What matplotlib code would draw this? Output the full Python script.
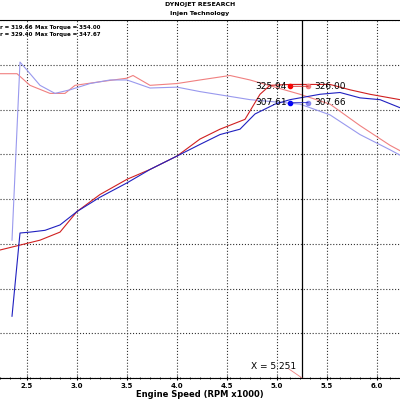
import matplotlib.pyplot as plt

# values (rpm x1000, units)
tq1_x = [2.23, 2.40, 2.53, 2.73, 2.88, 2.98, 3.23, 3.50, 3.56, 3.73, 4.00, 4.23, 4.53, 4.73, 4.98, 5.23, 5.53, 5.83, 6.13, 6.23]
tq1_y = [340, 340, 327, 318, 318, 327, 331, 335, 338, 327, 329, 333, 338, 333, 325, 317, 306, 282, 260, 254]
tq2_x = [2.35, 2.43, 2.50, 2.63, 2.78, 2.93, 3.13, 3.33, 3.50, 3.73, 4.00, 4.23, 4.73, 5.03, 5.23, 5.53, 5.83, 6.13, 6.23]
tq2_y = [154, 353, 344, 327, 318, 322, 329, 333, 333, 324, 325, 320, 311, 308, 306, 294, 272, 255, 249]
hp1_x = [2.23, 2.63, 2.83, 3.00, 3.23, 3.50, 3.73, 4.00, 4.23, 4.43, 4.68, 4.83, 4.93, 5.13, 5.53, 5.73, 5.93, 6.13, 6.23]
hp1_y = [143, 154, 163, 186, 205, 222, 233, 248, 267, 278, 289, 317, 327, 328, 328, 322, 317, 313, 311]
hp2_x = [2.35, 2.43, 2.53, 2.68, 2.83, 3.00, 3.23, 3.50, 3.73, 4.00, 4.23, 4.43, 4.63, 4.78, 4.98, 5.13, 5.43, 5.63, 5.83, 6.03, 6.23]
hp2_y = [69, 162, 163, 165, 171, 186, 202, 218, 233, 248, 261, 272, 278, 295, 306, 311, 317, 319, 313, 311, 302]

cursor = 5.251
mark_x = [5.13, 5.31]
mark_red = [325.94, 326.00]
mark_blue = [307.61, 307.66]

fig = plt.figure(figsize=(4, 4), dpi=100)
ax = fig.add_axes([0, 0.055, 1, 0.895])
ax.plot(tq1_x, tq1_y, color='#f08080', lw=0.8)
ax.plot(tq2_x, tq2_y, color='#9999ee', lw=0.8)
ax.plot(hp1_x, hp1_y, color='#d02020', lw=0.8)
ax.plot(hp2_x, hp2_y, color='#2020c0', lw=0.8)

ax.set_xlim(2.23, 6.23)
ax.set_ylim(0, 400)
ax.set_xticks([2.5, 3.0, 3.5, 4.0, 4.5, 5.0, 5.5, 6.0])
ax.set_xticks([2.23 + i * 0.1 for i in range(41)], minor=True)
ax.set_yticks(range(0, 401, 50))
ax.set_yticklabels([])
ax.tick_params(axis='x', labelsize=5, length=3, pad=2, direction='inout')
ax.tick_params(axis='x', which='minor', length=2, direction='inout')
ax.tick_params(axis='y', length=0)
for lbl in ax.get_xticklabels():
    lbl.set_fontweight('bold')
ax.grid(True, color='#333333', ls=':', lw=0.8)
for s in ['left', 'right']:
    ax.spines[s].set_visible(False)
ax.set_xlabel('Engine Speed (RPM x1000)', fontsize=6, fontweight='bold', labelpad=1)

ax.axvline(cursor, color='black', lw=0.9)
ax.plot(mark_x[0], mark_red[0], 'o', color='red', ms=3)
ax.plot(mark_x[1], mark_red[1], 'o', color='#f08080', ms=3)
ax.plot(mark_x[0], mark_blue[0], 'o', color='blue', ms=3)
ax.plot(mark_x[1], mark_blue[1], 'o', color='#8888ee', ms=3)
ax.plot(mark_x, mark_red, color='#d02020', lw=0.6)
ax.plot(mark_x, mark_blue, color='#2020c0', lw=0.6)
ax.text(mark_x[0] - 0.03, mark_red[0], f'{mark_red[0]:.2f}', fontsize=6.5, ha='right', va='center')
ax.text(mark_x[1] + 0.06, mark_red[1], f'{mark_red[1]:.2f}', fontsize=6.5, ha='left', va='center')
ax.text(mark_x[0] - 0.03, mark_blue[0], f'{mark_blue[0]:.2f}', fontsize=6.5, ha='right', va='center')
ax.text(mark_x[1] + 0.06, mark_blue[1], f'{mark_blue[1]:.2f}', fontsize=6.5, ha='left', va='center')
ax.text(4.97, 8, f'X = {cursor:.3f}', fontsize=6.5, ha='center', va='bottom')
ax.plot([5.12, cursor], [10, 0], color='#f08080', lw=0.6)

ax.text(2.23, 392, 'r = 319.66', fontsize=4, fontweight='bold', va='center')
ax.text(2.23, 384, 'r = 329.40', fontsize=4, fontweight='bold', va='center')
ax.text(2.58, 392, 'Max Torque = 354.00', fontsize=4, fontweight='bold', va='center')
ax.text(2.58, 384, 'Max Torque = 347.67', fontsize=4, fontweight='bold', va='center')

fig.text(0.5, 0.988, 'DYNOJET RESEARCH', fontsize=4.5, fontweight='bold', ha='center', va='center')
fig.text(0.5, 0.965, 'Injen Technology', fontsize=4.5, fontweight='bold', ha='center', va='center')

fig.savefig('out.png', dpi=100)
